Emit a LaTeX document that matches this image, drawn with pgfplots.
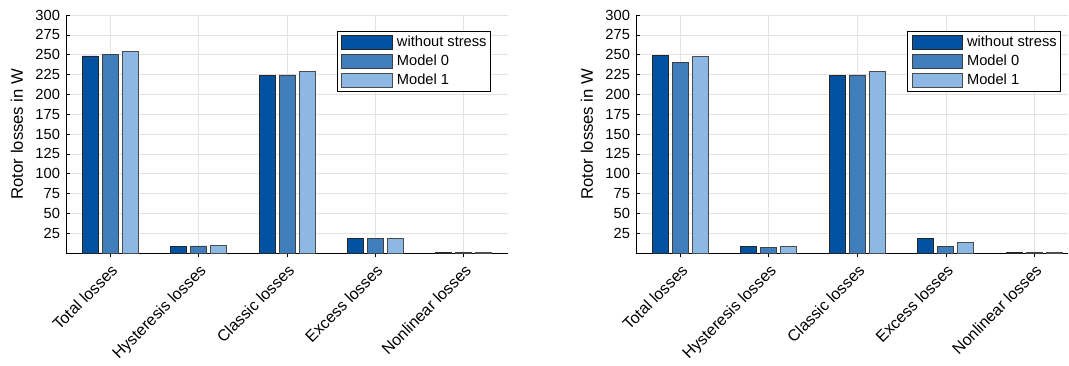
\documentclass[border=0pt]{standalone}
\usepackage{pgfplots}
\pgfplotsset{compat=1.18}
\usepackage{fontspec}
\setmainfont{Liberation Sans}
\definecolor{c1}{HTML}{0052A0}
\definecolor{c2}{HTML}{3F7EBA}
\definecolor{c3}{HTML}{8EB8E4}
\definecolor{gridc}{HTML}{E3E3E3}
\pgfplotsset{
  lossaxis/.style={
    scale only axis,
    height=178.5pt,
    ymin=0, ymax=300,
    xmin=0.5,
    ytick={25,50,...,300},
    xtick={1,2,3,4,5},
    xticklabels={Total losses,Hysteresis losses,Classic losses,Excess losses,Nonlinear losses},
    x tick label style={rotate=45, anchor=north east, font=\fontsize{12}{14}\selectfont},
    y tick label style={font=\fontsize{11}{13}\selectfont, xshift=-1pt},
    /pgf/number format/assume math mode=true,
    axis lines*=left,
    axis line style={line width=0.6pt, black},
    tick align=inside,
    major tick length=3pt,
    tick style={black, line width=0.5pt},
    grid=major,
    major grid style={gridc, line width=0.5pt},
    ybar=3pt,
    bar width=12pt,
    ylabel={Rotor losses in W},
    every axis y label/.style={at={(axis description cs:0,0.5)}, xshift=-36.75pt,
      rotate=90, anchor=center, font=\fontsize{12.5}{14}\selectfont},
    legend image code/.code={\draw[#1] (0pt,-5pt) rectangle (38pt,5pt);},
    legend style={anchor=north east, draw=black, line width=0.6pt,
      font=\fontsize{11}{13}\selectfont, inner xsep=3pt, inner ysep=3pt, row sep=3.6pt,
      nodes={inner sep=0pt},
      /tikz/every odd column/.append style={column sep=3pt}},
    legend cell align=left,
  },
  b1/.style={fill=c1, draw=black!85, line width=0.6pt},
  b2/.style={fill=c2, draw=black!75, line width=0.6pt},
  b3/.style={fill=c3, draw=black!70, line width=0.6pt},
}
\begin{document}
\begin{tikzpicture}
\begin{axis}[lossaxis, at={(49.5pt,84pt)}, anchor=south west,
  width=331.5pt, xmax=5.5,
  legend style={at={(0.9615,0.933)}}]
\addplot[b1] coordinates {(1,248.4) (2,8.8) (3,223.7) (4,18.0) (5,0.5)};
\addplot[b2] coordinates {(1,250.0) (2,8.9) (3,224.5) (4,18.3) (5,0.5)};
\addplot[b3] coordinates {(1,254.3) (2,9.0) (3,228.7) (4,18.6) (5,0.5)};
\legend{without stress, Model 0, Model 1}
\end{axis}
\begin{axis}[lossaxis, at={(477pt,84pt)}, anchor=south west,
  width=324pt, xmax=5.38,
  legend style={at={(0.984,0.933)}}]
\addplot[b1] coordinates {(1,248.9) (2,8.8) (3,223.7) (4,18.0) (5,0.5)};
\addplot[b2] coordinates {(1,240.0) (2,7.5) (3,224.5) (4,8.8) (5,0.5)};
\addplot[b3] coordinates {(1,248.0) (2,8.0) (3,228.7) (4,13.0) (5,0.5)};
\legend{without stress, Model 0, Model 1}
\end{axis}
\pgfresetboundingbox
\path (0,0) rectangle (801.75pt,273.75pt);
\end{tikzpicture}
\end{document}
